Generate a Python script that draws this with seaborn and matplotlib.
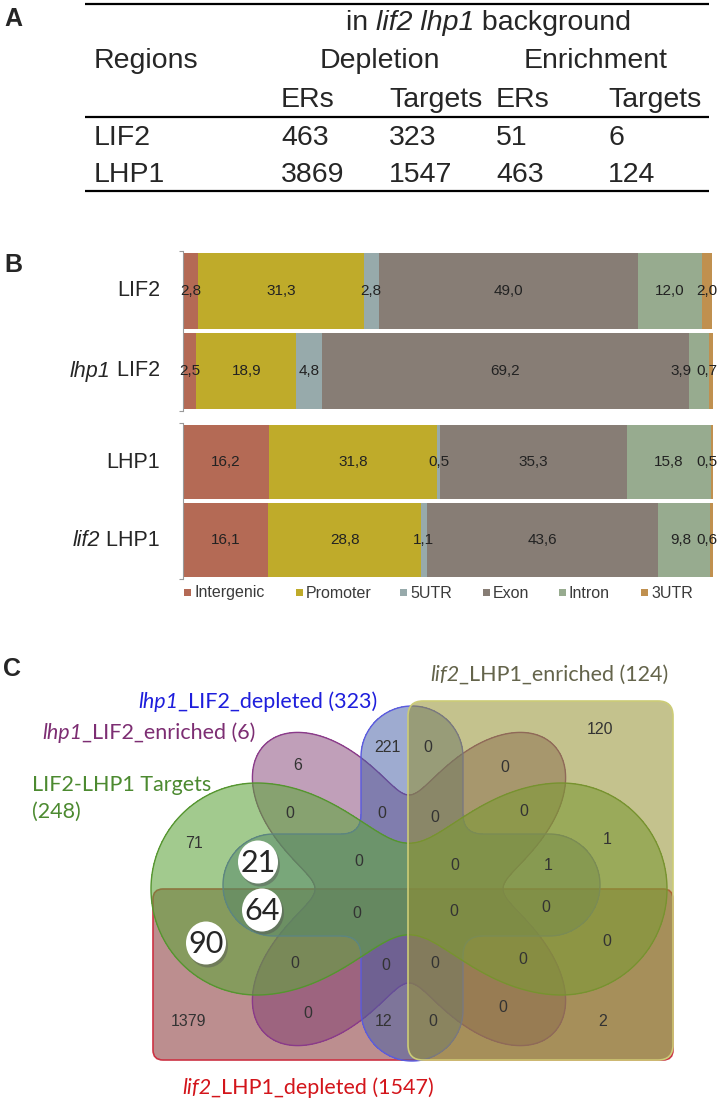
import numpy as np
import pandas as pd
import seaborn as sns
import matplotlib.pyplot as plt
from matplotlib.patches import FancyBboxPatch, Ellipse
from matplotlib.colors import to_rgba

sns.set_style("white")
plt.rcParams['font.family'] = ['Liberation Sans', 'DejaVu Sans']

# ---------------- data ----------------
# A: table
table_rows = ['LIF2', 'LHP1']
depl_ers = [463, 3869]
depl_targets = [323, 1547]
enr_ers = [51, 463]
enr_targets = [6, 124]

# B: genomic distribution (%)
regions = ['Intergenic', 'Promoter', '5UTR', 'Exon', 'Intron', '3UTR']
region_colors = ['#b46a55', '#bfab2a', '#97aaab', '#877d75', '#97ab8f', '#c0904f']
lif2_names = ['LIF2', 'lhp1 LIF2']
lif2_pct = [[2.8, 31.3, 2.8, 49.0, 12.0, 2.0],
            [2.5, 18.9, 4.8, 69.2, 3.9, 0.7]]
lhp1_names = ['LHP1', 'lif2 LHP1']
lhp1_pct = [[16.2, 31.8, 0.5, 35.3, 15.8, 0.5],
            [16.1, 28.8, 1.1, 43.6, 9.8, 0.6]]

# C: venn
venn_counts = [221, 6, 0, 120, 0, 0, 0, 0, 0, 71, 1, 0, 0, 1,
               0, 0, 0, 0, 0, 0, 0, 0, 1379, 0, 12, 0, 0, 2]
venn_circled = [21, 64, 90]

# ---------------- layout ----------------
W, H = 717, 1104
fig = plt.figure(figsize=(W / 100, H / 100), dpi=100)
ax = fig.add_axes([0, 0, 1, 1])
ax.set_xlim(0, W)
ax.set_ylim(H, 0)
ax.axis('off')
renderer = fig.canvas.get_renderer()


def rich_text(x, y, parts, ha='left', **kw):
    objs = []
    cx = x
    for s, style in parts:
        t = ax.text(cx, y, s, style=style, ha='left', **kw)
        cx += t.get_window_extent(renderer).width
        objs.append(t)
    if ha == 'right':
        for t in objs:
            t.set_x(t.get_position()[0] - (cx - x))
    return objs


# panel letters
for lab, (lx, ly) in zip('ABC', [(4, 26), (4, 272), (3, 676)]):
    ax.text(lx, ly, lab, fontsize=18, fontweight='bold', va='baseline')

# ---- A: table ----
fs = 20.5
for yy in (4, 117, 191):
    ax.plot([85, 709], [yy, yy], color='black', lw=1.6, solid_capstyle='butt')
rich_text(346, 30, [('in ', 'normal'), ('lif2 lhp1', 'italic'), (' background', 'normal')],
          fontsize=fs, va='baseline')
ax.text(94, 68, 'Regions', fontsize=fs, va='baseline')
ax.text(320, 68, 'Depletion', fontsize=fs, va='baseline')
ax.text(524, 68, 'Enrichment', fontsize=fs, va='baseline')
col_x = [281, 389, 496, 608]
for cx, s in zip(col_x, ['ERs', 'Targets', 'ERs', 'Targets']):
    ax.text(cx, 107, s, fontsize=fs, va='baseline')
for i, row in enumerate(table_rows):
    yy = 145 + i * 37
    ax.text(94, yy, row, fontsize=fs, va='baseline')
    vals = [depl_ers[i], depl_targets[i], enr_ers[i], enr_targets[i]]
    for cx, v in zip(col_x, vals):
        ax.text(cx, yy, str(v), fontsize=fs, va='baseline')

# ---- B: stacked bars ----
ax_b1 = fig.add_axes([183 / W, 1 - 411 / H, 530 / W, 160 / H])
ax_b2 = fig.add_axes([183 / W, 1 - 579 / H, 530 / W, 156 / H])


def stacked(axb, names, pcts):
    df = pd.DataFrame(pcts, index=names, columns=regions)
    cum = df.cumsum(axis=1)
    for reg, col in reversed(list(zip(regions, region_colors))):
        sns.barplot(x=cum[reg].values, y=names, order=names, color=col,
                    saturation=1, width=0.96, orient='h', ax=axb, linewidth=0)
    for i, name in enumerate(names):
        centers = list(cum.loc[name] - df.loc[name] / 2)
        # keep the small end labels inside the panel and apart from each other
        centers[-1] = min(centers[-1], 98.9)
        centers[-2] = min(centers[-2], centers[-1] - 4.9)
        for c, reg in zip(centers, regions):
            v = df.loc[name, reg]
            axb.text(c, i, f"{v:.1f}".replace('.', ','),
                     ha='center', va='center', fontsize=11, color='#222222',
                     family=['Liberation Sans Narrow', 'Liberation Sans'])
    axb.set_xlim(0, 100)
    axb.set_ylim(1.5, -0.5)
    axb.set_xticks([])
    axb.set_yticks([-0.5, 1.5], labels=['', ''])
    axb.set_xlabel('')
    axb.set_ylabel('')
    for sp in ['top', 'right', 'bottom']:
        axb.spines[sp].set_visible(False)
    axb.spines['left'].set_color('#9a9a9a')
    axb.spines['left'].set_linewidth(0.8)
    axb.tick_params(axis='y', length=3, color='#9a9a9a', left=True)
    # row labels
    for i, name in enumerate(names):
        yy = H - axb.transData.transform((0, i))[1]
        parts = name.split(' ')
        if len(parts) == 2:
            rich_text(160, yy, [(parts[0], 'italic'), (' ' + parts[1], 'normal')],
                      ha='right', fontsize=15.5, va='center')
        else:
            ax.text(160, yy, name, ha='right', va='center', fontsize=15.5)


stacked(ax_b1, lif2_names, lif2_pct)
stacked(ax_b2, lhp1_names, lhp1_pct)

leg_x = [184, 296, 400, 483, 559, 641]
for lx, reg, col in zip(leg_x, regions, region_colors):
    ax.add_patch(plt.Rectangle((lx, 589), 7, 7, color=col, lw=0))
    ax.text(lx + 10, 593, reg, fontsize=11.5, va='center', color='#3a3a3a')

# ---- C: venn ----
gx, gy = np.meshgrid(np.arange(130, 700, 1.0), np.arange(690, 1080, 1.0))


def sd_circle(cx, cy, r):
    return np.hypot(gx - cx, gy - cy) - r


def sd_capsule(x0, y0, x1, y1, r):
    px, py = gx - x0, gy - y0
    bx, by = x1 - x0, y1 - y0
    h = np.clip((px * bx + py * by) / (bx * bx + by * by), 0, 1)
    return np.hypot(px - bx * h, py - by * h) - r


def smin(a, b, k):
    h = np.clip(0.5 + 0.5 * (b - a) / k, 0, 1)
    return b * (1 - h) + a * h - k * h * (1 - h)


def blob(sd, face, alpha, edge, z):
    ax.contourf(gx, gy, sd, levels=[sd.min() - 1, 0], colors=[face], alpha=alpha, zorder=z)
    ax.contour(gx, gy, sd, levels=[0], colors=[edge], linewidths=1.0, zorder=z + 0.1)


def rgb(r, g, b):
    return (r / 255, g / 255, b / 255)


cx0, cy0 = 409, 889
# lif2_LHP1_depleted: lower rectangle
ax.add_patch(FancyBboxPatch((153, 889), 520, 171, boxstyle='round,pad=0,rounding_size=10',
                            fc=to_rgba(rgb(140, 60, 62), 0.58), ec='#cc3344', lw=1.2, zorder=2))
# lhp1_LIF2_enriched: four-lobed rosette
th = np.arctan2(gy - cy0, gx - cx0)
sd_purple = np.hypot(gx - cx0, gy - cy0) - (149 + 55 * np.cos(4 * (th - np.pi / 4)))
blob(sd_purple, rgb(125, 55, 110), 0.48, '#8a3a8a', 3)
# lhp1_LIF2_depleted: cross
sd_blue = smin(sd_capsule(412, 757, 412, 1010, 51), sd_capsule(274, 885, 549, 885, 51), 20)
blob(sd_blue, rgb(70, 95, 165), 0.52, '#5a5ae0', 4)
# LIF2-LHP1 targets: horizontal peanut
sd_green = smin(sd_circle(257, 889, 106), sd_circle(561, 889, 106), 211)
blob(sd_green, rgb(95, 165, 60), 0.58, '#55952f', 5)
# lif2_LHP1_enriched: right rectangle
ax.add_patch(FancyBboxPatch((408, 701), 265, 359, boxstyle='round,pad=0,rounding_size=15',
                            fc=to_rgba(rgb(148, 145, 48), 0.55), ec='#cccc77', lw=1.2, zorder=6))

venn_xy = [(387, 747), (298, 765), (428, 748), (600, 730), (505, 768), (290, 813), (382, 814),
           (435, 817), (524, 812), (194, 843), (607, 839), (359, 862), (455, 866), (548, 865),
           (357, 914), (454, 912), (546, 908), (607, 942), (295, 963), (386, 965), (435, 964),
           (523, 960), (188, 1022), (308, 1013), (384, 1021), (433, 1022), (503, 1007), (603, 1021)]
for (x, y), n in zip(venn_xy, venn_counts):
    ax.text(x, y, str(n), ha='center', va='center', fontsize=11.5, color='#333333', zorder=8)

circ_xy = [(258, 862), (262, 910), (206, 943)]
for (x, y), n in zip(circ_xy, venn_circled):
    ax.add_patch(Ellipse((x + 2, y + 3), 40, 43, fc='#555555', alpha=0.45, lw=0, zorder=8))
    ax.add_patch(Ellipse((x, y), 40, 43, fc='white', lw=0, zorder=9))
    ax.text(x, y + 1, str(n), ha='center', va='center', fontsize=22, family='Lato', zorder=10)

vfs = 15.5
rich_text(430, 675, [('lif2', 'italic'), ('_LHP1_enriched (124)', 'normal')],
          fontsize=vfs, va='center', family='Lato', color='#64644b')
rich_text(138, 702, [('lhp1', 'italic'), ('_LIF2_depleted (323)', 'normal')],
          fontsize=vfs, va='center', family='Lato', color='#1e1edc')
rich_text(42, 733, [('lhp1', 'italic'), ('_LIF2_enriched (6)', 'normal')],
          fontsize=vfs, va='center', family='Lato', color='#7d2e73')
ax.text(32, 785, 'LIF2-LHP1 Targets', fontsize=vfs, va='center', family='Lato', color='#4c8a30')
ax.text(32, 812, '(248)', fontsize=vfs, va='center', family='Lato', color='#4c8a30')
rich_text(182, 1088, [('lif2', 'italic'), ('_LHP1_depleted (1547)', 'normal')],
          fontsize=vfs, va='center', family='Lato', color='#d3151b')

fig.savefig('out.png', dpi=100)
